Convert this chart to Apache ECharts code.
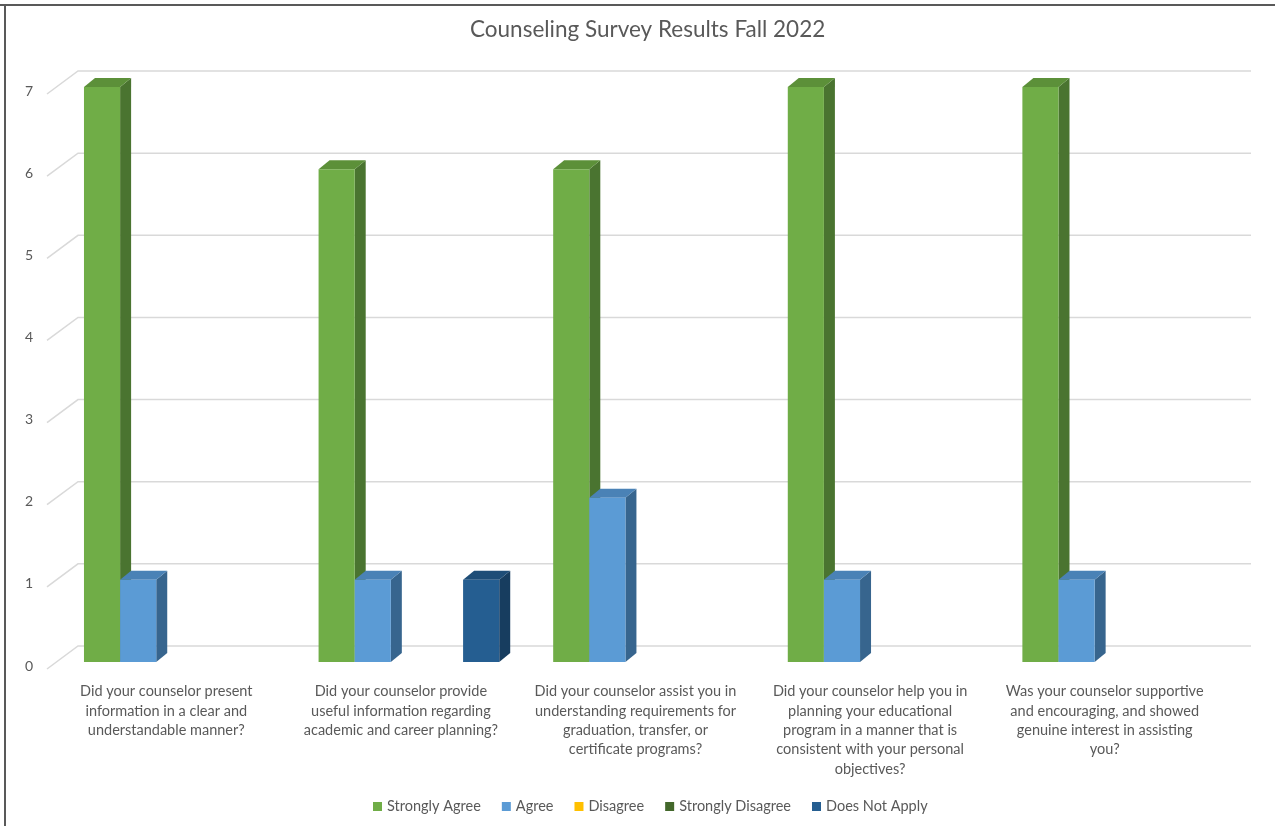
<!DOCTYPE html>
<html>
<head>
<meta charset="utf-8">
<script src="https://cdn.jsdelivr.net/npm/echarts@6/dist/echarts.min.js"></script>
<style>
html,body{margin:0;padding:0;background:#fff;}
#chart{width:1275px;height:826px;}
</style>
</head>
<body>
<div id="chart"></div>
<script>
const titleText = 'Counseling Survey Results Fall 2022';
const categories = [
  'Did your counselor present\ninformation in a clear and\nunderstandable manner?',
  'Did your counselor provide\nuseful information regarding\nacademic and career planning?',
  'Did your counselor assist you in\nunderstanding requirements for\ngraduation, transfer, or\ncertificate programs?',
  'Did your counselor help you in\nplanning your educational\nprogram in a manner that is\nconsistent with your personal\nobjectives?',
  'Was your counselor supportive\nand encouraging, and showed\ngenuine interest in assisting\nyou?'
];
const seriesNames = ['Strongly Agree', 'Agree', 'Disagree', 'Strongly Disagree', 'Does Not Apply'];
const stronglyAgree = [7, 6, 6, 7, 7];
const agree = [1, 1, 2, 1, 1];
const disagree = [0, 0, 0, 0, 0];
const stronglyDisagree = [0, 0, 0, 0, 0];
const doesNotApply = [0, 1, 0, 0, 0];
const yTicks = [0, 1, 2, 3, 4, 5, 6, 7];

const seriesValues = [stronglyAgree, agree, disagree, stronglyDisagree, doesNotApply];
const palette = [
  {front: '#70AD47', side: '#4A7430', top: '#5C9039'},
  {front: '#5B9BD5', side: '#37658E', top: '#4A82B6'},
  {front: '#FFC000', side: '#B38600', top: '#D9A300'},
  {front: '#43682B', side: '#2C451C', top: '#375623'},
  {front: '#255E91', side: '#173D5F', top: '#1E4D77'}
];
const FONT = 'Lato, "Open Sans", sans-serif';

function makeBarRenderer(si) {
  return function (params, api) {
    const ci = api.value(0);
    const v = api.value(1);
    if (!v) return;
    const band = api.size([1, 0])[0];
    const top = api.coord([ci, v]);
    const base = api.coord([ci, 0]);
    const gap = band * 0.23;
    const w = (band - gap) / seriesNames.length;
    const x0 = top[0] - band / 2 + gap / 2 + si * w;
    const x1 = x0 + w;
    const yt = top[1], yb = base[1];
    const dx = 11, dy = -9;
    const c = palette[si];
    return {
      type: 'group',
      children: [
        {type: 'polygon', shape: {points: [[x1, yb], [x1 + dx, yb + dy], [x1 + dx, yt + dy], [x1, yt]]}, style: {fill: c.side}},
        {type: 'polygon', shape: {points: [[x0, yt], [x1, yt], [x1 + dx, yt + dy], [x0 + dx, yt + dy]]}, style: {fill: c.top}},
        {type: 'rect', shape: {x: x0, y: yt, width: w, height: yb - yt}, style: {fill: c.front}}
      ]
    };
  };
}

function gridRenderer(params, api) {
  const cs = params.coordSys;
  const v = api.value(1);
  const y = api.coord([0, v])[1];
  const yb = y - 16;
  return {
    type: 'polyline',
    shape: {points: [[cs.x - 10, y + 7], [cs.x + 21, yb], [cs.x + cs.width + 21, yb]]},
    style: {stroke: '#D9D9D9', lineWidth: 1.5, fill: null}
  };
}

const series = [{
  type: 'custom',
  name: '_grid',
  renderItem: gridRenderer,
  data: yTicks.map(v => [0, v]),
  silent: true,
  z: 1
}];
seriesNames.forEach((name, si) => {
  series.push({
    type: 'custom',
    name: name,
    renderItem: makeBarRenderer(si),
    data: seriesValues[si].map((v, i) => [i, v]),
    itemStyle: {color: palette[si].front},
    z: 2 + si
  });
});

const chart = echarts.init(document.getElementById('chart'));
chart.setOption({
  animation: false,
  backgroundColor: '#fff',
  title: {
    text: titleText,
    left: 465,
    top: 13,
    textStyle: {fontFamily: FONT, fontSize: 22.5, fontWeight: 'normal', color: '#595959'}
  },
  legend: {
    data: seriesNames,
    bottom: 7,
    left: 368,
    icon: 'rect',
    itemWidth: 9,
    itemHeight: 9,
    itemGap: 21,
    itemTextGap: 4,
    textStyle: {fontFamily: FONT, fontSize: 14.5, color: '#595959'}
  },
  grid: {left: 57, right: 45, top: 87, bottom: 164},
  xAxis: {
    type: 'category',
    data: categories,
    axisLine: {show: false},
    axisTick: {show: false},
    axisLabel: {
      interval: 0,
      margin: 20,
      fontFamily: FONT,
      fontSize: 14.5,
      lineHeight: 19.3,
      color: '#595959',
      padding: [0, 16, 0, 0]
    }
  },
  yAxis: {
    type: 'value',
    min: 0,
    max: 7,
    interval: 1,
    splitLine: {show: false},
    axisLine: {show: false},
    axisTick: {show: false},
    axisLabel: {
      margin: 24,
      formatter: '{a|{value}}',
      rich: {a: {fontFamily: FONT, fontSize: 14, color: '#595959', padding: [8, 0, 0, 0]}}
    }
  },
  graphic: [
    {type: 'line', shape: {x1: 0, y1: 5, x2: 1275, y2: 5}, style: {stroke: '#595959', lineWidth: 2}, silent: true},
    {type: 'line', shape: {x1: 5, y1: 5, x2: 5, y2: 826}, style: {stroke: '#595959', lineWidth: 2}, silent: true}
  ],
  series: series
});
</script>
</body>
</html>
